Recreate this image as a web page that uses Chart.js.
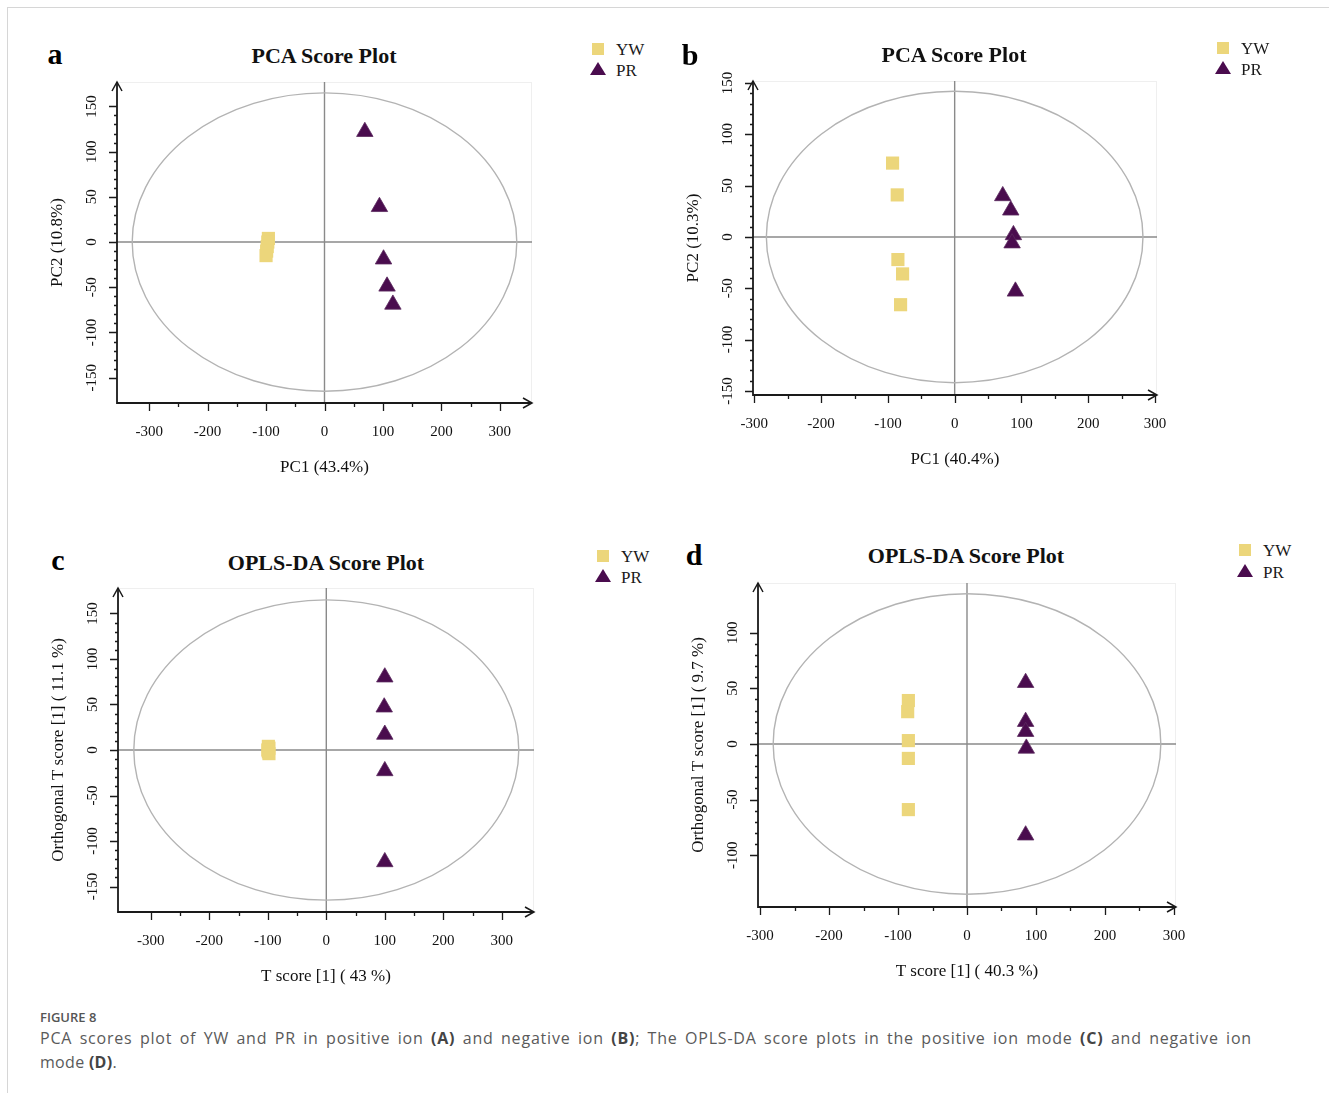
<!DOCTYPE html>
<html>
<head>
<meta charset="utf-8">
<script src="https://cdn.jsdelivr.net/npm/chart.js@4.4.1/dist/chart.umd.min.js"></script>
<style>
html,body{margin:0;padding:0;background:#fff;}
body{width:1329px;height:1093px;position:relative;overflow:hidden;font-family:"Liberation Serif",serif;}
canvas{position:absolute;}
.t{position:absolute;white-space:nowrap;line-height:1;color:#111;}
.cap{position:absolute;font-family:"Open Sans",sans-serif;line-height:1;color:#5a5a5a;white-space:nowrap;}
.cap b{color:#444;font-weight:700;}
</style>
</head>
<body>
<div style="position:absolute;left:7px;top:7px;right:0;bottom:0;border-top:1px solid #d6d6d6;border-left:1px solid #d6d6d6;"></div>
<script>
// ---------------- data ----------------
const seriesNames = ['YW', 'PR'];
const xTickLabels = [-300, -200, -100, 0, 100, 200, 300];
const yTickLabels150 = [-150, -100, -50, 0, 50, 100, 150];
const yTickLabels100 = [-100, -50, 0, 50, 100];

// panel a : PCA positive ion
const aYW_x = [-96, -97, -98, -99, -100];
const aYW_y = [4, 0, -5, -10, -15];
const aPR_x = [69, 94, 101, 107, 117];
const aPR_y = [122, 39, -19, -49, -69];

// panel b : PCA negative ion
const bYW_x = [-93, -86, -85, -78, -81];
const bYW_y = [72, 41, -22, -36, -66];
const bPR_x = [72, 84, 88, 86, 91];
const bPR_y = [40, 26, 2, -6, -53];

// panel c : OPLS-DA positive ion
const cYW_x = [-99, -98, -100, -99, -98];
const cYW_y = [4, 2, 0, -2, -4];
const cPR_x = [100, 99, 100, 100, 100];
const cPR_y = [80, 47, 17, -23, -123];

// panel d : OPLS-DA negative ion
const dYW_x = [-85, -86, -85, -85, -85];
const dYW_y = [39, 29, 3, -13, -59];
const dPR_x = [85, 85, 85, 86, 85];
const dPR_y = [55, 20, 11, -4, -82];

// Hotelling ellipse half-axes (score units)
const ellipseRx = [329, 282, 329, 281];
const ellipseRy = [165, 142, 165, 135];

// ---------------- styles ----------------
const FONT = '"Liberation Serif", "Times New Roman", serif';
const YW_COLOR = '#ECD67B';
const PR_COLOR = '#4A0C4E';

const panels = [
  {letter:'a', title:'PCA Score Plot', xTitle:'PC1 (43.4%)', yTitle:'PC2 (10.8%)',
   L:117, R:532, T:82, B:403, xMin:-355, xMax:355, yMin:-178, yMax:177, yTicks:yTickLabels150,
   yw:[aYW_x, aYW_y], pr:[aPR_x, aPR_y], e:0,
   letterPos:[55,64], titlePos:[324,63], leg:[598,49,55, 69,76]},
  {letter:'b', title:'PCA Score Plot', xTitle:'PC1 (40.4%)', yTitle:'PC2 (10.3%)',
   L:753, R:1157, T:81, B:395, xMin:-302, xMax:303, yMin:-154, yMax:152, yTicks:yTickLabels150,
   yw:[bYW_x, bYW_y], pr:[bPR_x, bPR_y], e:1,
   letterPos:[690,65], titlePos:[954,62], leg:[1223,48,54, 68,75]},
  {letter:'c', title:'OPLS-DA Score Plot', xTitle:'T score [1] ( 43 %)', yTitle:'Orthogonal T score [1] ( 11.1 %)',
   L:118, R:534, T:588, B:912, xMin:-356, xMax:355, yMin:-178, yMax:178, yTicks:yTickLabels150,
   yw:[cYW_x, cYW_y], pr:[cPR_x, cPR_y], e:2,
   letterPos:[58,570], titlePos:[326,570], leg:[603,556,562, 576,583]},
  {letter:'d', title:'OPLS-DA Score Plot', xTitle:'T score [1] ( 40.3 %)', yTitle:'Orthogonal T score [1] ( 9.7 %)',
   L:758, R:1176, T:583, B:907, xMin:-303, xMax:303, yMin:-146.5, yMax:144.6, yTicks:yTickLabels100,
   yw:[dYW_x, dYW_y], pr:[dPR_x, dPR_y], e:3,
   letterPos:[694,565], titlePos:[966,563], leg:[1245,550,556, 571,578]}
];

// ---------------- helpers ----------------
function addText(s, x, base, size, opt) {
  opt = opt || {};
  const d = document.createElement('div');
  d.className = 't';
  d.textContent = s;
  d.style.fontSize = size + 'px';
  d.style.fontWeight = opt.bold ? '700' : '400';
  d.style.top = (base - 0.8375 * size) + 'px';
  d.style.left = x + 'px';
  if (opt.center) d.style.transform = 'translateX(-50%)';
  if (opt.color) d.style.color = opt.color;
  document.body.appendChild(d);
}
function addBox(css) {
  const d = document.createElement('div');
  d.style.position = 'absolute';
  Object.assign(d.style, css);
  document.body.appendChild(d);
}

function makeDecor(p) {
  return {
    id: 'decor' + p.letter,
    beforeDatasetsDraw(chart) {
      const {ctx, chartArea: a, scales: {x, y}} = chart;
      const x0 = x.getPixelForValue(0), y0 = y.getPixelForValue(0);
      ctx.save();
      // faint plot frame
      ctx.strokeStyle = '#efefef';
      ctx.lineWidth = 1;
      ctx.strokeRect(a.left + 0.5, a.top + 0.5, a.right - a.left - 1, a.bottom - a.top - 1);
      // zero lines
      ctx.strokeStyle = '#8a8a8a';
      ctx.lineWidth = 1.4;
      ctx.beginPath();
      ctx.moveTo(a.left, y0); ctx.lineTo(a.right, y0);
      ctx.moveTo(x0, a.top); ctx.lineTo(x0, a.bottom);
      ctx.stroke();
      // ellipse
      const rx = Math.abs(x.getPixelForValue(ellipseRx[p.e]) - x0);
      const ry = Math.abs(y.getPixelForValue(ellipseRy[p.e]) - y0);
      ctx.strokeStyle = '#b3b3b3';
      ctx.lineWidth = 1.4;
      ctx.beginPath();
      ctx.ellipse(x0, y0, rx, ry, 0, 0, Math.PI * 2);
      ctx.stroke();
      ctx.restore();
    },
    afterDraw(chart) {
      const {ctx, chartArea: a, scales: {x, y}} = chart;
      ctx.save();
      ctx.strokeStyle = '#1a1a1a';
      ctx.lineWidth = 1.8;
      ctx.beginPath();
      ctx.moveTo(a.left, a.top); ctx.lineTo(a.left, a.bottom); ctx.lineTo(a.right, a.bottom);
      ctx.stroke();
      // arrow heads
      ctx.lineWidth = 1.5;
      ctx.beginPath();
      ctx.moveTo(a.left - 5, a.top + 9); ctx.lineTo(a.left, a.top); ctx.lineTo(a.left + 5, a.top + 9);
      ctx.moveTo(a.right - 9, a.bottom - 5); ctx.lineTo(a.right, a.bottom); ctx.lineTo(a.right - 9, a.bottom + 5);
      ctx.stroke();
      // x ticks
      ctx.lineWidth = 1.3;
      ctx.beginPath();
      const xs = xTickLabels[0], xe = xTickLabels[xTickLabels.length - 1];
      for (let v = xs; v <= xe; v += 50) {
        const px = Math.round(x.getPixelForValue(v)) + 0.5;
        const len = (v % 100 === 0) ? 8 : 4;
        ctx.moveTo(px, a.bottom); ctx.lineTo(px, a.bottom + len);
      }
      // y ticks
      const ys = p.yTicks[0], ye = p.yTicks[p.yTicks.length - 1];
      for (let v = ys; v <= ye; v += 10) {
        const py = Math.round(y.getPixelForValue(v)) + 0.5;
        const len = (v % 50 === 0) ? 8 : 3;
        ctx.moveTo(a.left - len, py); ctx.lineTo(a.left, py);
      }
      ctx.stroke();
      ctx.restore();
    }
  };
}

function zeroPad(s) {
  s.paddingTop = 0; s.paddingBottom = 0; s.paddingLeft = 0; s.paddingRight = 0;
}

function makeChart(p) {
  const PAD_L = 80, PAD_B = 80, PAD_T = 12, PAD_R = 14;
  const w = p.R - p.L + PAD_L + PAD_R, h = p.B - p.T + PAD_T + PAD_B;
  const cv = document.createElement('canvas');
  cv.width = w; cv.height = h;
  cv.style.left = (p.L - PAD_L) + 'px';
  cv.style.top = (p.T - PAD_T) + 'px';
  cv.style.width = w + 'px'; cv.style.height = h + 'px';
  document.body.appendChild(cv);

  const pts = (xs, ys) => xs.map((v, i) => ({x: v, y: ys[i]}));

  new Chart(cv, {
    type: 'scatter',
    data: {
      datasets: [
        {label: seriesNames[0], data: pts(p.yw[0], p.yw[1]), pointStyle: 'rect', pointRadius: 9.3,
         pointHoverRadius: 9.3, backgroundColor: YW_COLOR, borderColor: YW_COLOR, borderWidth: 0},
        {label: seriesNames[1], data: pts(p.pr[0], p.pr[1]), pointStyle: 'triangle', pointRadius: 9.5,
         pointHoverRadius: 9.5, backgroundColor: PR_COLOR, borderColor: '#5b2a5e', borderWidth: 0.8}
      ]
    },
    options: {
      responsive: false,
      animation: false,
      devicePixelRatio: 1,
      events: [],
      layout: {padding: {left: 0, top: PAD_T, right: PAD_R, bottom: 0}, autoPadding: false},
      plugins: {legend: {display: false}, tooltip: {enabled: false}, title: {display: false}},
      scales: {
        x: {
          type: 'linear', position: 'bottom', min: p.xMin, max: p.xMax,
          afterBuildTicks: s => { s.ticks = xTickLabels.map(v => ({value: v})); },
          afterFit: s => { s.height = PAD_B; zeroPad(s); },
          grid: {display: false, drawTicks: false},
          border: {display: false},
          ticks: {font: {family: FONT, size: 15}, color: '#111', padding: 20, maxRotation: 0, minRotation: 0,
                  autoSkip: false, callback: v => String(v)},
          title: {display: true, text: p.xTitle, font: {family: FONT, size: 17}, color: '#111',
                  padding: {top: 0, bottom: 5}}
        },
        y: {
          type: 'linear', position: 'left', min: p.yMin, max: p.yMax,
          afterBuildTicks: s => { s.ticks = p.yTicks.map(v => ({value: v})); },
          afterFit: s => { s.width = PAD_L; zeroPad(s); },
          grid: {display: false, drawTicks: false},
          border: {display: false},
          ticks: {font: {family: FONT, size: 15}, color: '#111', padding: 11, minRotation: 90, maxRotation: 90,
                  crossAlign: 'center', autoSkip: false, callback: v => String(v)},
          title: {display: true, text: p.yTitle, font: {family: FONT, size: 17}, color: '#111',
                  padding: {top: 10, bottom: 0}}
        }
      }
    },
    plugins: [makeDecor(p)]
  });

  // panel letter, title, legend
  addText(p.letter, p.letterPos[0], p.letterPos[1], 30, {bold: true, center: true, color: '#000'});
  addText(p.title, p.titlePos[0], p.titlePos[1], 22, {bold: true, center: true, color: '#111'});
  const [lx, sqy, ywBase, triy, prBase] = p.leg;
  addBox({left: (lx - 6) + 'px', top: (sqy - 6) + 'px', width: '12px', height: '12px', background: YW_COLOR});
  addBox({left: (lx - 8) + 'px', top: (triy - 7) + 'px', width: '0', height: '0',
          borderLeft: '8px solid transparent', borderRight: '8px solid transparent',
          borderBottom: '13px solid ' + PR_COLOR});
  addText(seriesNames[0], lx + 18, ywBase, 17, {color: '#1a1a1a'});
  addText(seriesNames[1], lx + 18, prBase, 17, {color: '#1a1a1a'});
}

panels.forEach(makeChart);

// ---------------- caption ----------------
function capLine(html, top, size, extra) {
  const d = document.createElement('div');
  d.className = 'cap';
  d.innerHTML = html;
  d.style.left = '40px';
  d.style.top = top + 'px';
  d.style.fontSize = size + 'px';
  if (extra) Object.assign(d.style, extra);
  document.body.appendChild(d);
  return d;
}
capLine('FIGURE 8', 1011, 13, {fontWeight: '600', color: '#555'});
capLine('PCA scores plot of YW and PR in positive ion <b>(A)</b> and negative ion <b>(B)</b>; The OPLS-DA score plots in the positive ion mode <b>(C)</b> and negative ion',
        1030, 16, {width: '1212px', textAlign: 'justify', textAlignLast: 'justify', whiteSpace: 'normal', letterSpacing: '0.8px'});
capLine('mode <b>(D)</b>.', 1054, 16, {letterSpacing: '0.3px'});
</script>
</body>
</html>
